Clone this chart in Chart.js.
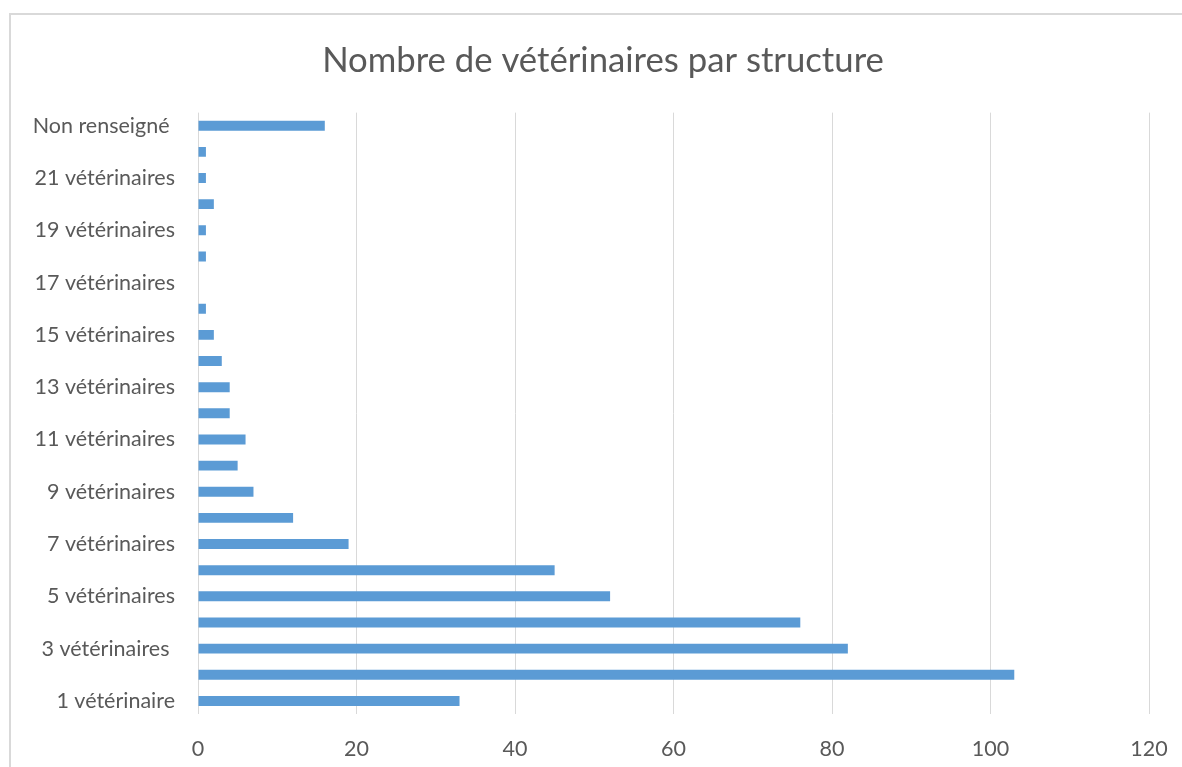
<!DOCTYPE html>
<html>
<head>
<meta charset="utf-8">
<script src="https://cdn.jsdelivr.net/npm/chart.js@4"></script>
<style>
  html, body { margin: 0; padding: 0; background: #fff; overflow: hidden; }
  .frame {
    position: absolute; left: 9px; top: 13px;
    width: 1200px; height: 800px;
    border: 2px solid #d9d9d9; box-sizing: border-box;
  }
  .wrap { position: absolute; left: 0; top: 0; width: 1182px; height: 767px; }
</style>
</head>
<body>
<div class="frame"></div>
<div class="wrap"><canvas id="chart"></canvas></div>
<script>
// categories, bottom to top
const labels = [
  "1 vétérinaire", "2 vétérinaires", "3 vétérinaires ", "4 vétérinaires",
  "5 vétérinaires", "6 vétérinaires", "7 vétérinaires", "8 vétérinaires",
  "9 vétérinaires", "10 vétérinaires", "11 vétérinaires", "12 vétérinaires",
  "13 vétérinaires", "14 vétérinaires", "15 vétérinaires", "16 vétérinaires",
  "17 vétérinaires", "18 vétérinaires", "19 vétérinaires", "20 vétérinaires",
  "21 vétérinaires", "22 vétérinaires", "Non renseigné "
];
const counts = [33, 103, 82, 76, 52, 45, 19, 12, 7, 5, 6, 4, 4, 3, 2, 1, 0, 1, 1, 2, 1, 1, 16];

const xTicks = [0, 20, 40, 60, 80, 100, 120];

const fontFamily = "Lato, 'Open Sans', sans-serif";
const textColor = "#595959";

const ctx = document.getElementById("chart").getContext("2d");
new Chart(ctx, {
  type: "bar",
  data: {
    labels,
    datasets: [{
      data: counts,
      backgroundColor: "#5b9bd5",
      borderWidth: 0,
      categoryPercentage: 1,
      barPercentage: 0.38
    }]
  },
  options: {
    indexAxis: "y",
    responsive: true,
    maintainAspectRatio: false,
    animation: false,
    layout: { padding: { left: 24, right: 0, top: 0, bottom: 0 } },
    plugins: {
      legend: { display: false },
      tooltip: { enabled: false },
      title: {
        display: true,
        text: "Nombre de vétérinaires par structure",
        color: textColor,
        font: { family: fontFamily, size: 34.7, weight: "normal" },
        padding: { top: 40, bottom: 31 }
      }
    },
    scales: {
      x: {
        min: xTicks[0],
        max: xTicks[xTicks.length - 1],
        afterBuildTicks: s => { s.ticks = xTicks.map(v => ({ value: v })); },
        grid: { color: "#d9d9d9", lineWidth: 1, drawTicks: false },
        border: { display: false },
        ticks: {
          color: textColor,
          font: { family: fontFamily, size: 21.5 },
          padding: 22
        },
        afterFit: s => { s.height = 53; s.paddingLeft = 0; s.paddingRight = 33; }
      },
      y: {
        reverse: true,
        grid: { display: false, drawTicks: false },
        border: { display: false },
        ticks: {
          autoSkip: false,
          color: textColor,
          font: { family: fontFamily, size: 21.5 },
          padding: 23,
          callback: (v, i) => (i % 2 === 0 ? labels[i] : "")
        },
        afterFit: s => { s.width = 174; }
      }
    }
  }
});
</script>
</body>
</html>
